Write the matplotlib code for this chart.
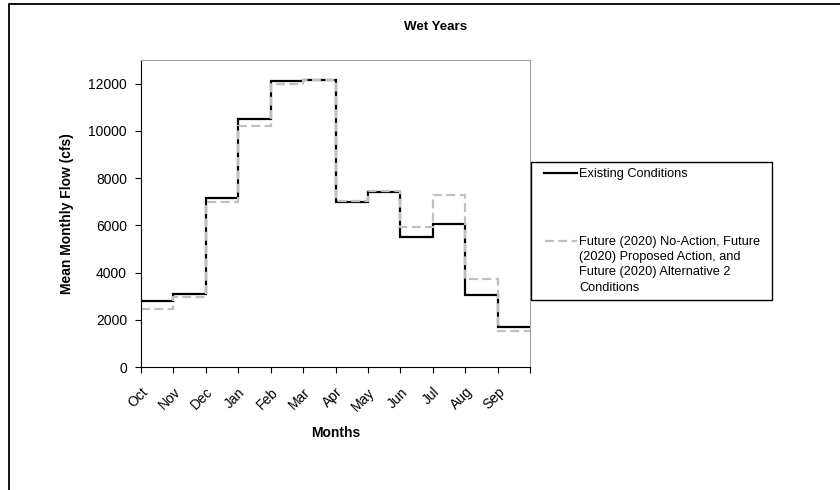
import matplotlib
matplotlib.use("Agg")
import matplotlib.pyplot as plt
from matplotlib.patches import Rectangle
from matplotlib.lines import Line2D
import numpy as np

plt.rcParams['font.family'] = ['Liberation Sans', 'DejaVu Sans']

months = ["Oct", "Nov", "Dec", "Jan", "Feb", "Mar", "Apr", "May", "Jun", "Jul", "Aug", "Sep"]
existing = [2790, 3100, 7140, 10500, 12090, 12160, 7000, 7410, 5520, 6070, 3040, 1690]
future = [2450, 2960, 7000, 10210, 12000, 12140, 7030, 7440, 5940, 7270, 3720, 1510]
existing_label = "Existing Conditions"
future_label = ["Future (2020) No-Action, Future", "(2020) Proposed Action, and",
                "Future (2020) Alternative 2", "Conditions"]

W, H = 840, 490
FS = 10
LEG_FS = 9.2

def fx(px):
    return px / W

def fy(py):
    return 1 - py / H

fig = plt.figure(figsize=(8.4, 4.9), dpi=100)

# outer chart frame (runs off the right and bottom edges)
fig.patches.append(Rectangle((fx(9), -0.1), 1.2, fy(4) + 0.1,
                             transform=fig.transFigure, fill=False,
                             edgecolor="black", linewidth=1.3))

ax = fig.add_axes([fx(141), fy(367), fx(530) - fx(141), fy(60) - fy(367)])

black_style = dict(color="black", linewidth=1.6)
gray_style = dict(color="#c0c0c0", linewidth=1.6, linestyle=(0, (4, 2)))

edges = np.arange(len(months) + 1)
ax.stairs(existing, edges, baseline=None, **black_style)
ax.stairs(future, edges, baseline=None, **gray_style)

ax.set_xlim(0, 12)
ax.set_ylim(0, 13000)
ax.set_yticks(np.arange(0, 12001, 2000))
ax.set_xticks(edges)
ax.set_xticklabels(months + [""], rotation=45, ha="right", rotation_mode="anchor",
                   fontsize=FS)
ax.tick_params(axis="y", labelsize=FS, length=4, direction="out", pad=6)
ax.tick_params(axis="x", length=4, direction="out", pad=9)

for side in ["top", "right"]:
    ax.spines[side].set_color("#a0a0a0")
for side in ["left", "bottom"]:
    ax.spines[side].set_color("black")

ax.set_ylabel("Mean Monthly Flow (cfs)", fontsize=FS, fontweight="bold", labelpad=10)
ax.set_xlabel("Months", fontsize=FS, fontweight="bold", labelpad=9)
fig.text(fx(436), fy(27), "Wet Years", ha="center", va="center",
         fontsize=9.6, fontweight="bold")

# legend box, drawn by hand so the long label hangs from its first line
fig.patches.append(Rectangle((fx(531), fy(300)), fx(772) - fx(531), fy(162) - fy(300),
                             transform=fig.transFigure, facecolor="white",
                             edgecolor="black", linewidth=1.0))
fig.lines.append(Line2D([fx(544), fx(577)], [fy(173), fy(173)],
                        transform=fig.transFigure, **black_style))
fig.text(fx(579), fy(174), existing_label, ha="left", va="center", fontsize=LEG_FS)
fig.lines.append(Line2D([fx(545), fx(577)], [fy(241), fy(241)],
                        transform=fig.transFigure, **gray_style))
for i, line in enumerate(future_label):
    fig.text(fx(579), fy(241.5 + 15.5 * i), line, ha="left", va="center", fontsize=LEG_FS)

fig.savefig("out.png", dpi=100)
